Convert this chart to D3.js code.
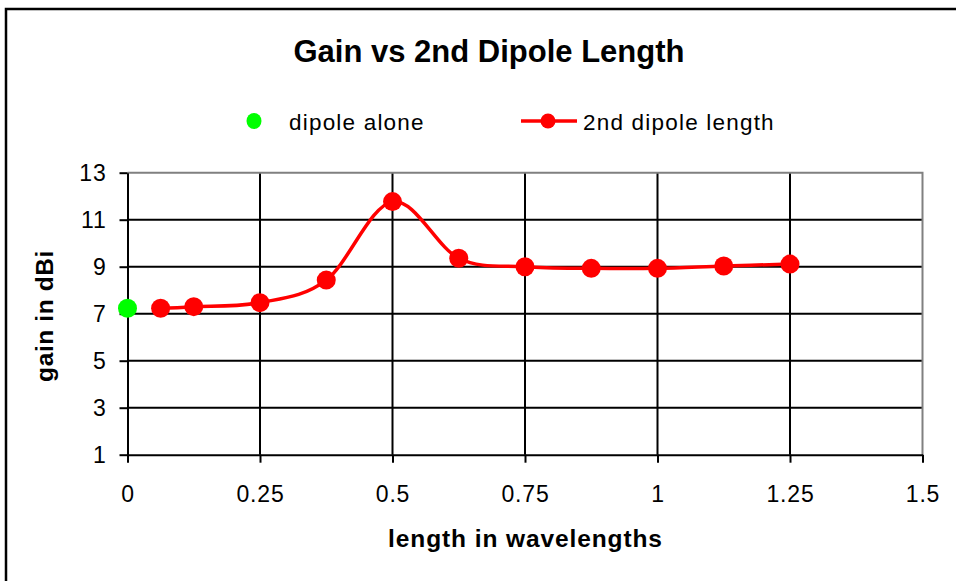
<!DOCTYPE html>
<html>
<head>
<meta charset="utf-8">
<script src="https://cdn.jsdelivr.net/npm/d3@7"></script>
<style>
  body { margin: 0; background: #fff; }
  text { font-family: "Liberation Sans", Arial, sans-serif; }
</style>
</head>
<body>
<svg id="drawing_region" width="956" height="581"></svg>
<script>
// values
var lengths = [0.0625, 0.125, 0.25, 0.375, 0.5, 0.625, 0.75, 0.875, 1.0, 1.125, 1.25];
var gains   = [7.23, 7.30, 7.47, 8.43, 11.77, 9.36, 9.00, 8.93, 8.93, 9.03, 9.11];
var aloneLength = [0];
var aloneGain   = [7.23];
var xTicks = [0, 0.25, 0.5, 0.75, 1, 1.25, 1.5];
var yTicks = [1, 3, 5, 7, 9, 11, 13];

var svg = d3.select('#drawing_region');

// outer chart frame (runs off the right and bottom of the picture)
svg.append('rect')
    .attr('x', 6).attr('y', 9)
    .attr('width', 1000).attr('height', 700)
    .attr('fill', 'none').attr('stroke', '#000').attr('stroke-width', 2.5);

var x = d3.scaleLinear().domain([0, 1.5]).range([127.5, 922.5]);
var y = d3.scaleLinear().domain([1, 13]).range([454.7, 172.7]);

// horizontal grid
svg.append('g').selectAll('line')
    .data(yTicks.slice(1, -1))
    .join('line')
    .attr('x1', x(0)).attr('x2', x(1.5))
    .attr('y1', d => y(d)).attr('y2', d => y(d))
    .attr('stroke', '#000').attr('stroke-width', 2);

// vertical grid
svg.append('g').selectAll('line')
    .data(xTicks.slice(1, -1))
    .join('line')
    .attr('x1', d => x(d)).attr('x2', d => x(d))
    .attr('y1', y(13)).attr('y2', y(1))
    .attr('stroke', '#000').attr('stroke-width', 2);

// plot area border top / right
svg.append('path')
    .attr('d', `M${x(0)},${y(13)}H${x(1.5)}V${y(1)}`)
    .attr('fill', 'none').attr('stroke', '#808080').attr('stroke-width', 2);

// axes
var yAxis = svg.append('g')
    .attr('transform', `translate(${x(0)},0)`)
    .call(d3.axisLeft(y).tickValues(yTicks).tickSize(8).tickSizeOuter(0).tickPadding(13));
var xAxis = svg.append('g')
    .attr('transform', `translate(0,${y(1)})`)
    .call(d3.axisBottom(x).tickValues(xTicks).tickFormat(d3.format('~g')).tickSize(8).tickSizeOuter(0));

[xAxis, yAxis].forEach(a => {
    a.select('.domain').attr('stroke', '#000').attr('stroke-width', 2);
    a.selectAll('.tick line').attr('stroke', '#000').attr('stroke-width', 2);
    a.selectAll('.tick text')
        .attr('fill', '#000')
        .style('font-family', '"Liberation Sans", Arial, sans-serif')
        .style('font-size', '23px')
        .style('letter-spacing', '0.8px');
});
yAxis.selectAll('.tick text').attr('dy', '0.35em');
xAxis.selectAll('.tick text').attr('y', 47).attr('dy', 0);

// the series line
var pts = lengths.map((d, i) => [d, gains[i]]);
var line = d3.line()
    .x(d => x(d[0])).y(d => y(d[1]))
    .curve(d3.curveCardinal.tension(0));

svg.append('path')
    .datum(pts)
    .attr('d', line)
    .attr('fill', 'none')
    .attr('stroke', '#ff0000')
    .attr('stroke-width', 3.5);

svg.append('g').selectAll('circle')
    .data(pts)
    .join('circle')
    .attr('cx', d => x(d[0])).attr('cy', d => y(d[1]))
    .attr('r', 9.5)
    .attr('fill', '#ff0000');

svg.append('g').selectAll('circle')
    .data(aloneLength.map((d, i) => [d, aloneGain[i]]))
    .join('circle')
    .attr('cx', d => x(d[0])).attr('cy', d => y(d[1]))
    .attr('r', 9.5)
    .attr('fill', '#00ff00');

// title
svg.append('text')
    .attr('x', 489).attr('y', 62)
    .attr('text-anchor', 'middle')
    .style('font-size', '31px').style('font-weight', 'bold')
    .text('Gain vs 2nd Dipole Length');

// legend
svg.append('ellipse')
    .attr('cx', 254).attr('cy', 121).attr('rx', 7.5).attr('ry', 8)
    .attr('fill', '#00ff00');
svg.append('text')
    .attr('x', 289).attr('y', 129.5)
    .style('font-size', '22.5px').style('letter-spacing', '1.2px')
    .text('dipole alone');

svg.append('line')
    .attr('x1', 521).attr('x2', 577).attr('y1', 121).attr('y2', 121)
    .attr('stroke', '#ff0000').attr('stroke-width', 3.5);
svg.append('circle')
    .attr('cx', 548).attr('cy', 121).attr('r', 7.5)
    .attr('fill', '#ff0000');
svg.append('text')
    .attr('x', 583).attr('y', 129.5)
    .style('font-size', '22.5px').style('letter-spacing', '1.2px')
    .text('2nd dipole length');

// axis titles
svg.append('text')
    .attr('x', 525.5).attr('y', 547)
    .attr('text-anchor', 'middle')
    .style('font-size', '24.5px').style('font-weight', 'bold').style('letter-spacing', '0.9px')
    .text('length in wavelengths');

svg.append('text')
    .attr('transform', 'translate(53,316) rotate(-90)')
    .attr('text-anchor', 'middle')
    .style('font-size', '24.5px').style('font-weight', 'bold').style('letter-spacing', '0.6px')
    .text('gain in dBi');
</script>
</body>
</html>
